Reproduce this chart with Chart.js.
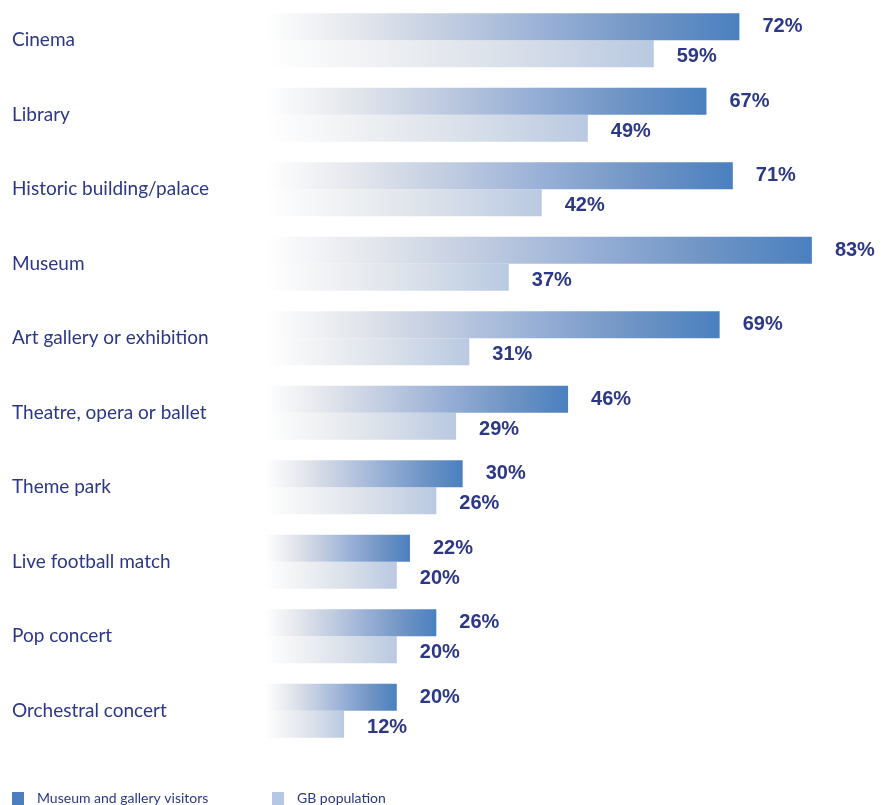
<!DOCTYPE html>
<html lang="en">
<head>
    <meta charset="UTF-8">
    <title>Activities visited in the last year</title>
    <script src="https://cdn.jsdelivr.net/npm/chart.js"></script>
    <style>
        body { margin: 0; background: #fff; }
        #wrap { width: 883px; height: 805px; }
    </style>
</head>
<body>
    <div id="wrap">
        <canvas id="visitsChart" width="883" height="805"></canvas>
    </div>

    <script>
        // Activities and share of each group who did them (%)
        const categories = [
            'Cinema', 'Library', 'Historic building/palace', 'Museum',
            'Art gallery or exhibition', 'Theatre, opera or ballet', 'Theme park',
            'Live football match', 'Pop concert', 'Orchestral concert'
        ];
        const museumVisitors = [72, 67, 71, 83, 69, 46, 30, 22, 26, 20];
        const gbPopulation = [59, 49, 42, 37, 31, 29, 26, 20, 20, 12];
        const seriesNames = ['Museum and gallery visitors', 'GB population'];

        const navy = '#2c3785';
        const darkBlue = '#4a80bf';
        const paleBlue = '#b6c7e4';

        // each bar fades in from white at the axis to its full colour at its end
        function fade(stops, solid) {
            return function (ctx) {
                const chart = ctx.chart;
                if (!chart.chartArea || ctx.raw == null) return solid;
                const x0 = chart.scales.x.getPixelForValue(0);
                const x1 = chart.scales.x.getPixelForValue(ctx.raw);
                const g = chart.ctx.createLinearGradient(x0, 0, x1, 0);
                stops.forEach(s => g.addColorStop(s[0], s[1]));
                return g;
            };
        }

        const blueStops = [
            [0, '#ffffff'], [0.2, '#e3e6ec'], [0.4, '#bfcbe0'],
            [0.6, '#97afd6'], [0.8, '#7095c5'], [1, darkBlue]
        ];
        const paleStops = [
            [0, '#ffffff'], [0.3, '#eef0f3'], [0.6, '#dbe1ea'], [1, '#b9c9e1']
        ];

        // value labels just after each bar end
        const valueLabels = {
            id: 'valueLabels',
            afterDatasetsDraw(chart) {
                const ctx = chart.ctx;
                ctx.save();
                ctx.fillStyle = navy;
                ctx.font = 'bold 20px "Liberation Sans", Arial, sans-serif';
                ctx.textAlign = 'left';
                ctx.textBaseline = 'middle';
                chart.data.datasets.forEach((ds, di) => {
                    chart.getDatasetMeta(di).data.forEach((bar, i) => {
                        ctx.fillText(ds.data[i] + '%', bar.x + 23, bar.y + (di === 1 ? 3 : 0));
                    });
                });
                ctx.restore();
            }
        };

        // legend row along the bottom edge
        const bottomLegend = {
            id: 'bottomLegend',
            afterDraw(chart) {
                const ctx = chart.ctx;
                const colors = [darkBlue, paleBlue];
                const starts = [12, 272];
                const y = chart.height - 7;
                ctx.save();
                ctx.font = '14px Lato, sans-serif';
                ctx.textBaseline = 'middle';
                ctx.textAlign = 'left';
                seriesNames.forEach((name, i) => {
                    ctx.fillStyle = colors[i];
                    ctx.fillRect(starts[i], y - 6, 12, 13);
                    ctx.fillStyle = navy;
                    ctx.fillText(name, starts[i] + 25, y);
                });
                ctx.restore();
            }
        };

        new Chart(document.getElementById('visitsChart'), {
            type: 'bar',
            data: {
                labels: categories,
                datasets: [
                    {
                        label: seriesNames[0],
                        data: museumVisitors,
                        backgroundColor: fade(blueStops, darkBlue),
                        borderWidth: 0
                    },
                    {
                        label: seriesNames[1],
                        data: gbPopulation,
                        backgroundColor: fade(paleStops, paleBlue),
                        borderWidth: 0
                    }
                ]
            },
            options: {
                indexAxis: 'y',
                responsive: false,
                animation: false,
                layout: { padding: { left: 12, right: 25, top: 3, bottom: 57 } },
                datasets: {
                    bar: { categoryPercentage: 0.725, barPercentage: 1 }
                },
                scales: {
                    x: {
                        min: 0,
                        max: 90,
                        display: false
                    },
                    y: {
                        grid: { display: false },
                        border: { display: false },
                        ticks: {
                            crossAlign: 'far',
                            color: navy,
                            font: { family: 'Lato, sans-serif', size: 19 }
                        },
                        afterFit(scale) {
                            scale.width = 253;
                            scale.paddingTop = 0;
                            scale.paddingBottom = 0;
                        }
                    }
                },
                plugins: {
                    legend: { display: false },
                    tooltip: { enabled: false }
                }
            },
            plugins: [valueLabels, bottomLegend]
        });
    </script>
</body>
</html>
